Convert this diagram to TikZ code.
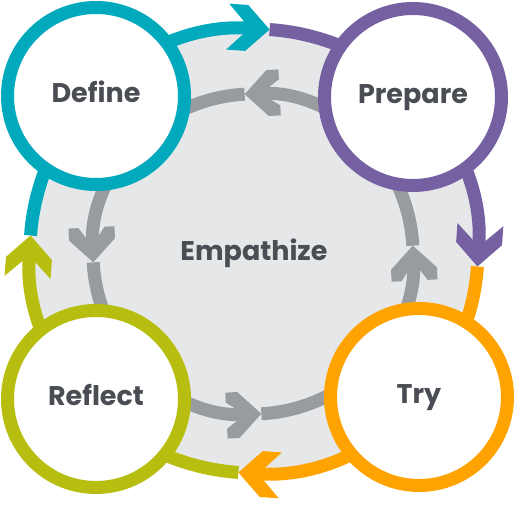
\documentclass[tikz,border=0pt]{standalone}
\usepackage{fontspec}
\setmainfont{Poppins}
\usepackage{tikz}
\usetikzlibrary{arrows.meta,calc}
\usepackage{xcolor}
\definecolor{dtteal}{RGB}{0,170,188}
\definecolor{dtpurple}{RGB}{117,97,162}
\definecolor{dtorange}{RGB}{255,163,0}
\definecolor{dtlime}{RGB}{183,190,16}
\definecolor{dtgrey}{RGB}{152,156,161}
\definecolor{dtfill}{RGB}{230,231,233}
\definecolor{dttext}{RGB}{74,78,84}

% fat chevron tip, right-angled point
% inset = depth of the notch, line width = square cut at the back of each arm
\pgfdeclarearrow{
  name = Chevron,
  parameters = {\the\pgfarrowlength,\the\pgfarrowwidth,\the\pgfarrowinset,\the\pgfarrowlinewidth},
  setup code = {
    \pgfarrowssettipend{0pt}
    \pgfarrowssetbackend{-\pgfarrowlength}
    \pgfarrowssetvisualbackend{-\pgfarrowinset}
    \pgfarrowssetlineend{-\pgfarrowinset}
    \pgfarrowshullpoint{0pt}{0pt}
    \pgfarrowsupperhullpoint{-\pgfarrowlength}{.5\pgfarrowwidth}
    \pgfarrowssavethe\pgfarrowlength
    \pgfarrowssavethe\pgfarrowwidth
    \pgfarrowssavethe\pgfarrowinset
    \pgfarrowssavethe\pgfarrowlinewidth
  },
  drawing code = {
    \pgfpathmoveto{\pgfpointorigin}
    \pgfpathlineto{\pgfpoint{-.5\pgfarrowwidth}{.5\pgfarrowwidth}}
    \pgfpathlineto{\pgfpoint{-\pgfarrowlength}{.5\pgfarrowwidth}}
    \pgfpathlineto{\pgfpoint{-\pgfarrowlength}{.5\pgfarrowwidth-\pgfarrowlinewidth}}
    \pgfpathlineto{\pgfpoint{-\pgfarrowinset}{0pt}}
    \pgfpathlineto{\pgfpoint{-\pgfarrowlength}{\pgfarrowlinewidth-.5\pgfarrowwidth}}
    \pgfpathlineto{\pgfpoint{-\pgfarrowlength}{-.5\pgfarrowwidth}}
    \pgfpathlineto{\pgfpoint{-.5\pgfarrowwidth}{-.5\pgfarrowwidth}}
    \pgfpathclose
    \pgfusepathqfill
  },
  defaults = {length=42pt, width=46pt, inset=20pt, line width=0pt}
}

\tikzstyle{tag} = [text=dttext, font=\fontsize{27}{32}\selectfont\bfseries, text height=20pt, text depth=6pt]
\tikzstyle{stage} = [tag, circle, line width=13pt, fill=white, minimum size=177pt, inner sep=0pt]
\tikzstyle{ring} = [line width=13pt]
\tikzstyle{bigchev} = [-{Chevron[length=42pt,width=46pt,inset=20pt,line width=0pt]}]
\tikzstyle{smallchev} = [-{Chevron[length=35pt,width=46pt,inset=16pt,line width=10pt]}]

\begin{document}
\begin{tikzpicture}[x=1pt, y=1pt]
\useasboundingbox (0,0) rectangle (515,505);
\coordinate (O) at (254,254);
\coordinate (G) at (253,251);

% grey disc behind everything
\fill[dtfill] (O) ellipse [x radius=224, y radius=222];

% inner loop, counter-clockwise
\coordinate (inE) at ($(G)+(3:160)$);
\coordinate (inN) at ($(G)+(93:160)$);
\coordinate (inW) at ($(G)+(183:160)$);
\coordinate (inS) at ($(G)+(273:160)$);
\draw[ring, dtgrey, smallchev] (inE) arc[start angle=3, end angle=93, radius=160];
\draw[ring, dtgrey, smallchev] (inN) arc[start angle=93, end angle=183, radius=160];
\draw[ring, dtgrey, smallchev] (inW) arc[start angle=183, end angle=273, radius=160];
\draw[ring, dtgrey, smallchev] (inS) arc[start angle=273, end angle=363, radius=160];

% outer loop, clockwise
\coordinate (outN) at ($(O)+(86:224 and 222)$);
\coordinate (outE) at ($(O)+(-4:224 and 222)$);
\coordinate (outS) at ($(O)+(-94:224 and 222)$);
\coordinate (outW) at ($(O)+(176:224 and 222)$);
\draw[ring, dtteal, bigchev] (outW) arc[start angle=176, end angle=86, x radius=224, y radius=222];
\draw[ring, dtpurple, bigchev] (outN) arc[start angle=86, end angle=-4, x radius=224, y radius=222];
\draw[ring, dtorange, bigchev] (outE) arc[start angle=-4, end angle=-94, x radius=224, y radius=222];
\draw[ring, dtlime, bigchev] (outS) arc[start angle=-94, end angle=-184, x radius=224, y radius=222];

% the four stages
\node[stage, draw=dtteal] (define) at (96,409) {Define};
\node[stage, draw=dtpurple] (prepare) at (413,408) {Prepare};
\node[stage, draw=dtorange] (try) at (419,108) {Try};
\node[stage, draw=dtlime] (reflect) at (96,106) {Reflect};

% centre
\node[tag] (empathize) at (254,251) {Empathize};
\end{tikzpicture}
\end{document}
